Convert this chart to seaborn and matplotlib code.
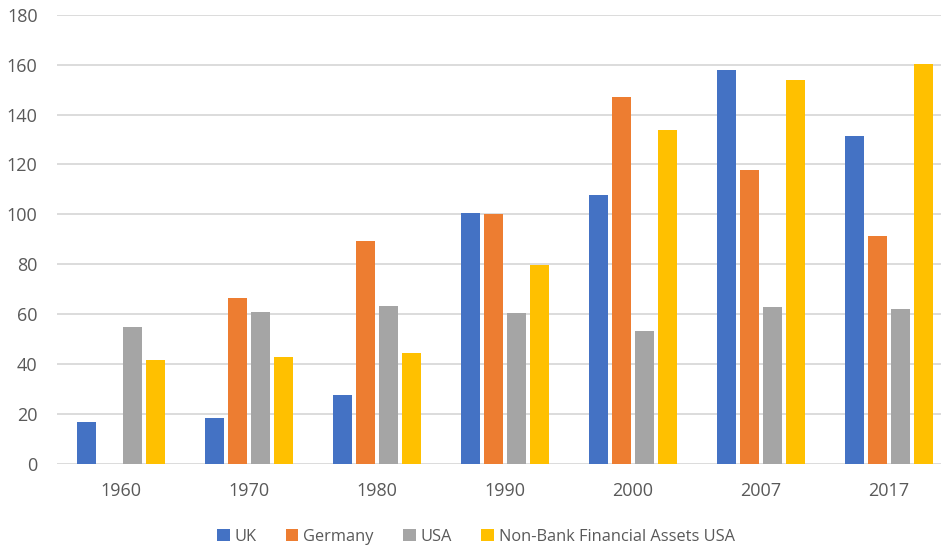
import matplotlib
matplotlib.use("Agg")
import matplotlib.pyplot as plt
import seaborn as sns
import pandas as pd
import numpy as np

years = ["1960", "1970", "1980", "1990", "2000", "2007", "2017"]
uk = [17, 18.5, 27.6, 100.6, 107.6, 157.8, 131.6]
germany = [np.nan, 66.6, 89.2, 100, 146.9, 117.6, 91.2]
usa = [54.7, 60.7, 63.4, 60.3, 53.3, 62.9, 62.2]
nbfa_usa = [41.6, 43, 44.6, 79.7, 133.9, 153.9, 160.1]

series_names = ["UK", "Germany", "USA", "Non-Bank Financial Assets USA"]
series_values = [uk, germany, usa, nbfa_usa]
colors = ["#4472C4", "#ED7D31", "#A5A5A5", "#FFC000"]

rows = []
for name, vals in zip(series_names, series_values):
    for yr, v in zip(years, vals):
        if not np.isnan(v):
            rows.append({"year": yr, "series": name, "value": v})
df = pd.DataFrame(rows)

sns.set_style("white")
plt.rcParams["font.family"] = ["Open Sans", "DejaVu Sans"]

fig = plt.figure(figsize=(9.41, 5.48), dpi=100)
# plot area runs a little past the right edge of the canvas
ax = fig.add_axes([57 / 941, 1 - 464 / 548, 896 / 941, (464 - 14.7) / 548])

sns.barplot(data=df, x="year", y="value", hue="series", order=years,
            hue_order=series_names, palette=colors, width=0.72, gap=0.2,
            saturation=1, linewidth=0, ax=ax)

ax.set_ylim(0, 180)
ax.set_xlim(-0.5, len(years) - 0.5)
ax.set_yticks(range(0, 181, 20))
ax.set_axisbelow(True)
ax.yaxis.grid(True, color="#D9D9D9", linewidth=1.3)
ax.xaxis.grid(False)
for s in ax.spines.values():
    s.set_visible(False)
ax.set_xlabel("")
ax.set_ylabel("")
ax.tick_params(axis="y", length=0, pad=14, labelsize=13, labelcolor="#595959")
ax.tick_params(axis="x", length=0, pad=13, labelsize=13, labelcolor="#595959")

handles, labels = ax.get_legend_handles_labels()
ax.get_legend().remove()
fig.legend(handles, labels, loc="center", bbox_to_anchor=(476 / 941, 1 - 537 / 548),
           ncol=4, frameon=False, fontsize=11.8, labelcolor="#595959",
           handlelength=0.75, handleheight=0.75, handletextpad=0.3,
           columnspacing=1.8, borderaxespad=0)

fig.savefig("out.png", dpi=100)
